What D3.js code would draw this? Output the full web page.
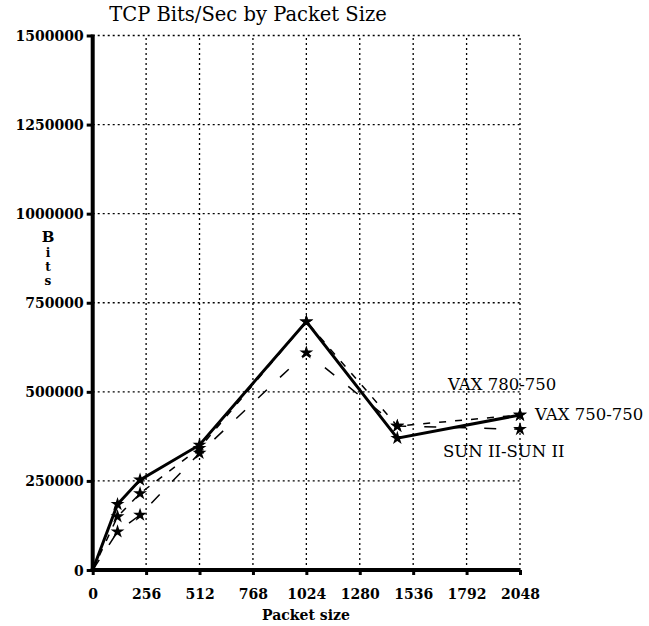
<!DOCTYPE html>
<html>
<head>
<meta charset="utf-8">
<script src="https://cdn.jsdelivr.net/npm/d3@7"></script>
<style>
  body { margin: 0; background: #fff; }
  text { font-family: "DejaVu Serif", serif; fill: #000; }
</style>
</head>
<body>
<div id="chart"></div>
<script>
// packet sizes where the measurements were taken
var packetSizes = [0, 119, 227, 512, 1024, 1460, 2048];

// bits/sec for each pair of machines
var vax750 = [0, 184500, 253000, 351000, 697000, 370000, 435000];
var vax780 = [0, 150000, 215000, 342000, 697000, 404000, 435000];
var sunSun = [0, 107600, 154500, 328000, 610000, 404000, 395000];

var seriesNames = ["VAX 750-750", "VAX 780-750", "SUN II-SUN II"];

var xTicks = [0, 256, 512, 768, 1024, 1280, 1536, 1792, 2048];
var yTicks = [0, 250000, 500000, 750000, 1000000, 1250000, 1500000];

var width = 649;
var height = 626;

var x_scale = d3.scaleLinear().domain([0, 2048]).range([92.7, 520]);
var y_scale = d3.scaleLinear().domain([0, 1500000]).range([570, 35.5]);

var svg = d3.select("#chart")
    .append("svg")
    .attr("width", width)
    .attr("height", height);

svg.append("rect")
    .attr("width", width)
    .attr("height", height)
    .attr("fill", "#fff");

// dotted grid, including the top and right borders
svg.append("g")
    .selectAll("line.h")
    .data(yTicks.slice(1))
    .enter()
    .append("line")
    .attr("x1", x_scale(0))
    .attr("x2", x_scale(2048))
    .attr("y1", function (d) { return y_scale(d); })
    .attr("y2", function (d) { return y_scale(d); })
    .attr("stroke", "#000")
    .attr("stroke-width", 1.3)
    .attr("stroke-dasharray", "2,3");

svg.append("g")
    .selectAll("line.v")
    .data(xTicks.slice(1))
    .enter()
    .append("line")
    .attr("y1", y_scale(0))
    .attr("y2", y_scale(1500000))
    .attr("x1", function (d) { return x_scale(d); })
    .attr("x2", function (d) { return x_scale(d); })
    .attr("stroke", "#000")
    .attr("stroke-width", 1.3)
    .attr("stroke-dasharray", "2,3");

// axes
var x_axis = d3.axisBottom(x_scale).tickValues(xTicks).tickSize(5).tickPadding(14)
    .tickFormat(d3.format("d"));
var y_axis = d3.axisLeft(y_scale).tickValues(yTicks).tickSize(6).tickPadding(3)
    .tickFormat(d3.format("d"));

var gx = svg.append("g")
    .attr("transform", "translate(0," + y_scale(0) + ")")
    .call(x_axis);
var gy = svg.append("g")
    .attr("transform", "translate(" + x_scale(0) + ",0)")
    .call(y_axis);

[gx, gy].forEach(function (g) {
    g.select(".domain").remove();
    g.selectAll(".tick line").attr("stroke", "#000").attr("stroke-width", 3);
    g.selectAll(".tick text")
        .style("font-family", "DejaVu Serif")
        .style("font-weight", "bold")
        .style("font-size", "14px");
});
gx.selectAll(".tick text").attr("dy", "0.71em");
gy.selectAll(".tick text").attr("dy", "0.36em");

svg.append("line")
    .attr("x1", x_scale(0)).attr("x2", x_scale(0))
    .attr("y1", y_scale(1500000) - 1).attr("y2", y_scale(0) + 2)
    .attr("stroke", "#000").attr("stroke-width", 4);
svg.append("line")
    .attr("x1", x_scale(0) - 2).attr("x2", x_scale(2048))
    .attr("y1", y_scale(0)).attr("y2", y_scale(0))
    .attr("stroke", "#000").attr("stroke-width", 4);

// data lines
var line = d3.line()
    .x(function (d) { return x_scale(d[0]); })
    .y(function (d) { return y_scale(d[1]); });

var series = [
    { name: seriesNames[0], values: vax750, width: 3, dash: null },
    { name: seriesNames[1], values: vax780, width: 1.5, dash: "7,9" },
    { name: seriesNames[2], values: sunSun, width: 1.5, dash: "12,18" }
];

series.forEach(function (s) {
    var pts = packetSizes.map(function (p, i) { return [p, s.values[i]]; });
    svg.append("path")
        .datum(pts)
        .attr("d", line)
        .attr("fill", "none")
        .attr("stroke", "#000")
        .attr("stroke-width", s.width)
        .attr("stroke-dasharray", s.dash);
    svg.append("g")
        .selectAll("path")
        .data(pts.slice(1))
        .enter()
        .append("path")
        .attr("d", d3.symbol().type(d3.symbolStar).size(60))
        .attr("transform", function (d) {
            return "translate(" + x_scale(d[0]) + "," + y_scale(d[1]) + ")";
        })
        .attr("fill", "#000");
});

// line labels near the right end
var lastX = x_scale(2048);
var labelFont = "16.5px";
svg.append("text")
    .attr("x", lastX + 15).attr("y", y_scale(vax750[6]) + 5)
    .style("font-family", "DejaVu Serif")
    .style("font-size", labelFont)
    .text(seriesNames[0]);
svg.append("text")
    .attr("x", lastX - 72).attr("y", y_scale(vax780[6]) - 25)
    .style("font-family", "DejaVu Serif")
    .style("font-size", labelFont)
    .text(seriesNames[1]);
svg.append("text")
    .attr("x", lastX - 77).attr("y", y_scale(sunSun[6]) + 28)
    .style("font-family", "DejaVu Serif")
    .style("font-size", labelFont)
    .text(seriesNames[2]);

// title and axis titles
svg.append("text")
    .attr("x", 248).attr("y", 21)
    .attr("text-anchor", "middle")
    .style("font-family", "DejaVu Serif")
    .style("font-size", "19.5px")
    .text("TCP Bits/Sec by Packet Size");

svg.append("text")
    .attr("x", 306).attr("y", 620)
    .attr("text-anchor", "middle")
    .style("font-family", "DejaVu Serif")
    .style("font-weight", "bold")
    .style("font-size", "14px")
    .text("Packet size");

var yTitle = ["B", "i", "t", "s"];
var yTitleBase = [242, 257, 271, 285];
svg.append("g")
    .selectAll("text")
    .data(yTitle)
    .enter()
    .append("text")
    .attr("x", 48)
    .attr("y", function (d, i) { return yTitleBase[i]; })
    .attr("text-anchor", "middle")
    .style("font-family", "DejaVu Serif")
    .style("font-weight", "bold")
    .style("font-size", function (d, i) { return i === 0 ? "15px" : "12px"; })
    .text(function (d) { return d; });
</script>
</body>
</html>
